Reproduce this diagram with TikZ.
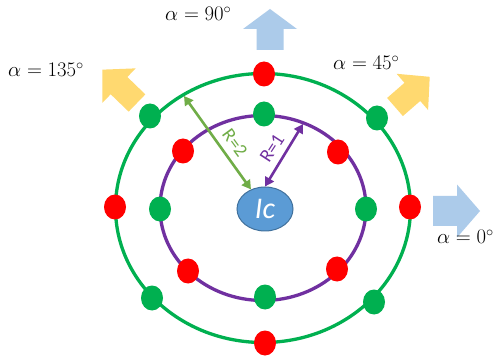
\documentclass[tikz,border=0pt]{standalone}
\usepackage{fontspec}
\newfontfamily\labelfont{Carlito}
\usetikzlibrary{shapes.geometric,arrows.meta}
\definecolor{ringgreen}{RGB}{0,176,80}
\definecolor{ringpurple}{RGB}{112,48,160}
\definecolor{dotred}{RGB}{255,0,0}
\definecolor{rgreen}{RGB}{112,173,71}
\definecolor{icfill}{RGB}{91,155,213}
\definecolor{icedge}{RGB}{65,113,156}
\definecolor{skyblue}{RGB}{172,203,234}
\definecolor{gold}{RGB}{255,217,112}
\tikzset{
  ring/.style={line width=3.3pt},
  dot/.style={ellipse, minimum width=22pt, minimum height=25pt, inner sep=0pt},
  reddot/.style={dot, fill=dotred},
  greendot/.style={dot, fill=ringgreen},
  radius arrow/.style={{Triangle[length=9pt,width=10pt]}-{Triangle[length=9pt,width=10pt]}, line width=2.6pt},
  anglab/.style={font=\fontsize{22}{26}\selectfont, inner sep=0pt},
  rlab/.style={font=\labelfont\fontsize{19}{22}\selectfont, inner sep=0pt},
}
% tail, angle, length, shaft width, head width, head length, colour
\newcommand{\BlockArrow}[7]{%
  \fill[#7, shift={#1}, rotate=#2] (0,{-#4/2}) -- ({#3-#6},{-#4/2}) -- ({#3-#6},{-#5/2}) -- (#3,0)
    -- ({#3-#6},{#5/2}) -- ({#3-#6},{#4/2}) -- (0,{#4/2}) -- cycle;
}
\begin{document}
\begin{tikzpicture}[x=1pt,y=-1pt]
  \useasboundingbox[fill=white] (0,0) rectangle (495,363);

  % Rings
  \coordinate (ctr) at (263,208);
  \draw[ring, draw=ringgreen] (ctr) ellipse [x radius=147.5, y radius=134.5];
  \draw[ring, draw=ringpurple] (ctr) ellipse [x radius=103, y radius=92.5];

  % Direction arrows
  \BlockArrow{(270,50)}{90}{41}{27}{54}{20}{skyblue}
  \BlockArrow{(433,211)}{0}{47}{30}{53}{23}{skyblue}
  \BlockArrow{(395,107)}{41}{46}{24}{48}{23}{gold}
  \BlockArrow{(137,103)}{136}{48}{24}{48}{23}{gold}

  \node[anglab, anchor=base west] (a90) at (165,21) {$\alpha = 90^\circ$};
  \node[anglab, anchor=base west] (a135) at (8,77) {$\alpha = 135^\circ$};
  \node[anglab, anchor=base west] (a45) at (333,70) {$\alpha = 45^\circ$};
  \node[anglab, anchor=base east] (a0) at (494,244) {$\alpha = 0^\circ$};

  % Outer ring dots
  \node[reddot] (o90) at (264,74) {};
  \node[reddot] (o180) at (115,207) {};
  \node[reddot] (o0) at (410,207) {};
  \node[reddot] (o270) at (265,343) {};
  \node[greendot] (o135) at (150,116) {};
  \node[greendot] (o45) at (377,118) {};
  \node[greendot] (o225) at (152,298) {};
  \node[greendot] (o315) at (374,302) {};

  % Inner ring dots
  \node[greendot] (i90) at (264,114) {};
  \node[greendot] (i180) at (160,209) {};
  \node[greendot] (i0) at (366,209) {};
  \node[greendot] (i270) at (265,297) {};
  \node[reddot] (i135) at (183,151) {};
  \node[reddot] (i45) at (338,152) {};
  \node[reddot] (i225) at (188,271) {};
  \node[reddot] (i315) at (337,269) {};

  % Centre
  \node[ellipse, draw=icedge, line width=1pt, fill=icfill, minimum width=56pt, minimum height=44pt,
    text=white, font=\labelfont\itshape\fontsize{30}{30}\selectfont, inner sep=0pt] (ic) at (265,209) {Ic};

  % Radii
  \coordinate (r2) at (184,96);
  \coordinate (r1) at (303,124);
  \draw[radius arrow, draw=rgreen] (r2) -- (ic);
  \draw[radius arrow, draw=ringpurple] (r1) -- (ic.north);
  \node[rlab, text=rgreen, rotate=-54] (r2lab) at (235,143) {R=2};
  \node[rlab, text=ringpurple, rotate=57] (r1lab) at (272,148) {R=1};
\end{tikzpicture}
\end{document}
